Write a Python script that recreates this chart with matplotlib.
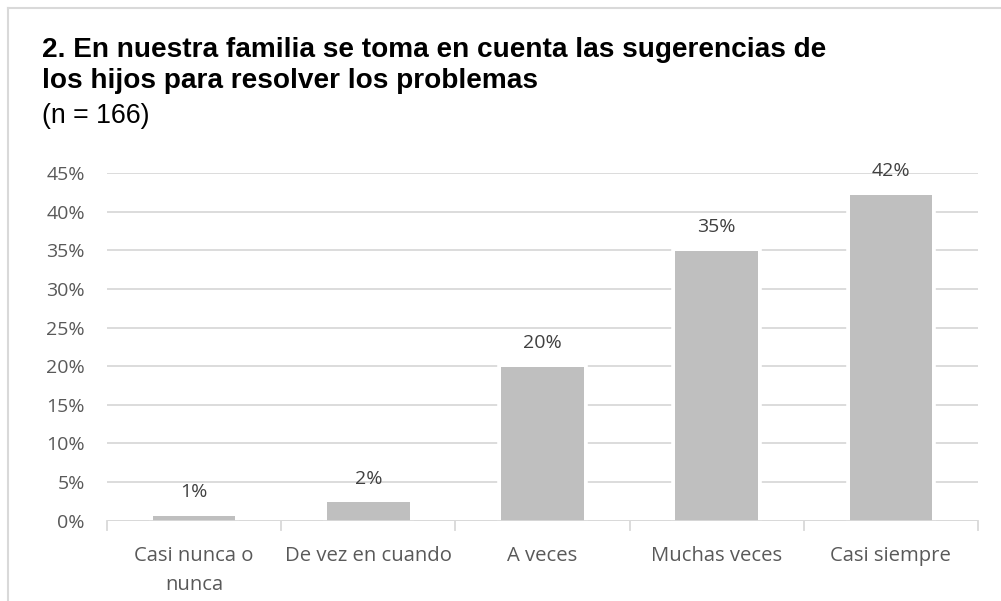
import matplotlib
matplotlib.use("Agg")
import matplotlib.pyplot as plt
from matplotlib.lines import Line2D

categories = ["Casi nunca o\nnunca", "De vez en cuando", "A veces", "Muchas veces", "Casi siempre"]
percentages = [0.6, 2.4, 19.9, 34.9, 42.2]
y_ticks = [0, 5, 10, 15, 20, 25, 30, 35, 40, 45]
title_lines = ["2. En nuestra familia se toma en cuenta las sugerencias de",
               "los hijos para resolver los problemas"]
subtitle_text = "(n = 166)"

W, H = 1001, 601
fig = plt.figure(figsize=(W / 100, H / 100), dpi=100)
fig.patch.set_facecolor("white")

body_font = "Open Sans"
grid_color = "#d9d9d9"
bar_color = "#bfbfbf"
label_size = 14

# plot area in pixel coordinates
left_px, right_px, top_px, bottom_px = 107, 978, 173, 520.7
ax = fig.add_axes([left_px / W, 1 - bottom_px / H, (right_px - left_px) / W, (bottom_px - top_px) / H])
ax.set_facecolor("white")

x = list(range(len(categories)))
ax.set_xlim(-0.5, len(categories) - 0.5)
ax.set_ylim(0, 45)

for t in y_ticks:
    ax.axhline(t, color=grid_color, lw=1.3, zorder=1)

bar_w = 0.475
# white halo around each bar that interrupts the gridlines
ax.bar(x, percentages, width=bar_w, color="white", edgecolor="white", linewidth=5.5, zorder=2)
ax.bar(x, percentages, width=bar_w, color=bar_color, edgecolor="none", zorder=3)
ax.axhline(0, color=grid_color, lw=1.3, zorder=4)

for xi, v in zip(x, percentages):
    ax.annotate(f"{v:.0f}%", (xi, v), xytext=(0, 17), textcoords="offset points",
                ha="center", va="center", fontsize=label_size, color="#404040", family=body_font)

for s in ax.spines.values():
    s.set_visible(False)

ax.set_yticks(y_ticks)
ax.set_yticklabels([f"{t}%" for t in y_ticks], fontsize=label_size, color="#595959", family=body_font)
ax.tick_params(axis="y", length=0, pad=16)

# category boundary ticks below the axis
for b in [i - 0.5 for i in range(len(categories) + 1)]:
    ax.plot([b, b], [0, -1.25], color=grid_color, lw=1.3, clip_on=False, zorder=4)

ax.set_xticks(x)
ax.set_xticklabels(categories, fontsize=14.6, color="#595959", family=body_font, linespacing=1.6)
ax.tick_params(axis="x", length=0, pad=18)

for line, base in zip(title_lines, [57, 88]):
    fig.text(42 / W, 1 - base / H, line, fontsize=20.2, fontweight="bold", family="Liberation Sans",
             color="black", ha="left", va="baseline")
fig.text(42 / W, 1 - 123 / H, subtitle_text, fontsize=19.3, family="Liberation Sans",
         color="black", ha="left", va="baseline")

# outer frame edges
fig.add_artist(Line2D([8 / W, 8 / W], [0, 1 - 8 / H], color=grid_color, lw=1.5, transform=fig.transFigure))
fig.add_artist(Line2D([8 / W, 1], [1 - 8 / H, 1 - 8 / H], color=grid_color, lw=1.5, transform=fig.transFigure))

fig.savefig("out.png", dpi=100, facecolor="white")
